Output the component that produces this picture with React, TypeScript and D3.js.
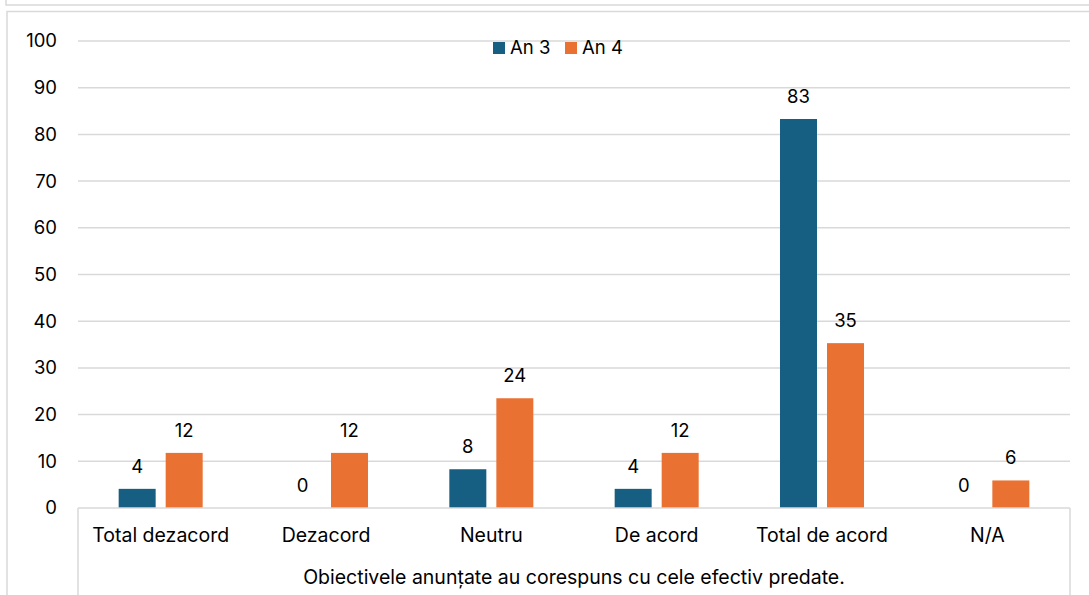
import { useEffect, useRef } from "react";
import * as d3 from "d3";

const categories = ["Total dezacord", "Dezacord", "Neutru", "De acord", "Total de acord", "N/A"];
const seriesNames = ["An 3", "An 4"];
const an3Values = [4.1, 0, 8.3, 4.1, 83.3, 0];
const an4Values = [11.8, 11.8, 23.5, 11.8, 35.3, 5.9];
const an3Labels = ["4", "0", "8", "4", "83", "0"];
const an4Labels = ["12", "12", "24", "12", "35", "6"];
const yTicks = [0, 10, 20, 30, 40, 50, 60, 70, 80, 90, 100];
const axisTitle = "Obiectivele anunțate au corespuns cu cele efectiv predate.";

const colors = ["#175f82", "#e97132"];

export default function App() {
  const ref = useRef<SVGSVGElement | null>(null);

  useEffect(() => {
    const svg = d3.select(ref.current);
    svg.selectAll("*").remove();

    const width = 1089, height = 595;
    const left = 78, right = 1070, top = 41, bottom = 508;
    const font = "Inter, 'Liberation Sans', sans-serif";
    const fs = 18.5;
    const fsCat = 19.5;

    // frames
    svg.append("rect").attr("x", 6).attr("y", -20).attr("width", width + 10).attr("height", 25)
      .attr("fill", "none").attr("stroke", "#d9d9d9").attr("stroke-width", 1.5);
    svg.append("rect").attr("x", 7).attr("y", 11.5).attr("width", width + 10).attr("height", height + 10)
      .attr("fill", "none").attr("stroke", "#d9d9d9").attr("stroke-width", 1.5);

    const y = d3.scaleLinear().domain([0, 100]).range([bottom, top]);
    const x0 = d3.scaleBand().domain(categories).range([left, right]).padding(0);
    const x1 = d3.scaleBand().domain(seriesNames).range([0, x0.bandwidth()])
      .paddingInner(0.213).paddingOuter(0.865);

    // gridlines
    svg.append("g").selectAll("line").data(yTicks.filter(t => t > 0)).enter().append("line")
      .attr("x1", left).attr("x2", right)
      .attr("y1", d => y(d)).attr("y2", d => y(d))
      .attr("stroke", "#d9d9d9").attr("stroke-width", 1.5);

    // y labels
    svg.append("g").selectAll("text").data(yTicks).enter().append("text")
      .attr("x", 57).attr("y", d => y(d)).attr("dy", "0.35em")
      .attr("text-anchor", "end").attr("font-family", font).attr("font-size", fs)
      .attr("fill", "#000").text(d => d);

    // bars
    const series = [an3Values, an4Values];
    const labels = [an3Labels, an4Labels];
    series.forEach((vals, si) => {
      const g = svg.append("g");
      g.selectAll("rect").data(vals).enter().append("rect")
        .attr("x", (_, i) => (x0(categories[i]) as number) + (x1(seriesNames[si]) as number))
        .attr("y", d => y(d))
        .attr("width", x1.bandwidth())
        .attr("height", d => bottom - y(d))
        .attr("fill", colors[si]);
      g.selectAll("text").data(vals).enter().append("text")
        .attr("x", (_, i) => (x0(categories[i]) as number) + (x1(seriesNames[si]) as number) + x1.bandwidth() / 2)
        .attr("y", d => y(d) - 16)
        .attr("text-anchor", "middle").attr("font-family", font).attr("font-size", fs)
        .attr("fill", "#000").text((_, i) => labels[si][i]);
    });

    // category axis box
    const ax = svg.append("g").attr("stroke", "#d9d9d9").attr("stroke-width", 1.5);
    ax.append("line").attr("x1", left).attr("x2", right).attr("y1", bottom).attr("y2", bottom);
    ax.append("line").attr("x1", left).attr("x2", left).attr("y1", bottom).attr("y2", height);
    ax.append("line").attr("x1", right).attr("x2", right).attr("y1", bottom).attr("y2", height);

    svg.append("g").selectAll("text").data(categories).enter().append("text")
      .attr("x", d => (x0(d) as number) + x0.bandwidth() / 2)
      .attr("y", 542)
      .attr("text-anchor", "middle").attr("font-family", font).attr("font-size", fsCat)
      .attr("fill", "#000").text(d => d);

    svg.append("text").attr("x", (left + right) / 2).attr("y", 584)
      .attr("text-anchor", "middle").attr("font-family", font).attr("font-size", fsCat)
      .attr("fill", "#000").text(axisTitle);

    // legend
    const legX = [493, 565];
    seriesNames.forEach((s, i) => {
      svg.append("rect").attr("x", legX[i]).attr("y", 42).attr("width", 12).attr("height", 12)
        .attr("fill", colors[i]);
      svg.append("text").attr("x", legX[i] + 17).attr("y", 48).attr("dy", "0.35em")
        .attr("font-family", font).attr("font-size", fs).attr("fill", "#000").text(s);
    });
  }, []);

  return (
    <svg ref={ref} width={1089} height={595}
      style={{ position: "absolute", left: 0, top: 0, background: "#fff" }} />
  );
}
